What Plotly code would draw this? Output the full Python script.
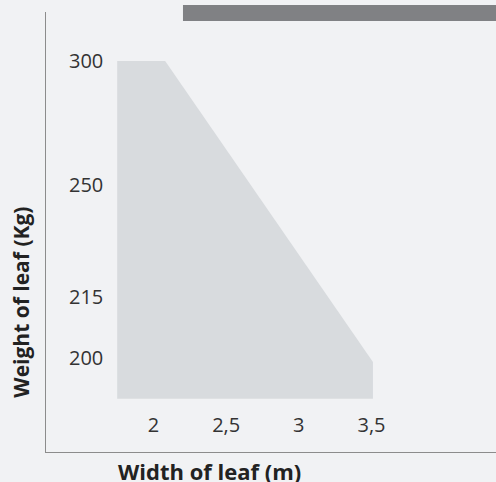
import numpy as np
import plotly.graph_objects as go

# ---- data ----
width_ticks = [2, 2.5, 3, 3.5]
width_tick_labels = ["2", "2,5", "3", "3,5"]
weight_ticks = [200, 215, 250, 300]
weight_tick_labels = ["200", "215", "250", "300"]

# outline of the admissible area (width in m, weight in kg)
area_width = [1.75, 1.75, 2.08, 3.51, 3.51, 1.75]
area_weight = [190, 300, 300, 199, 190, 190]

# ---- non-linear weight scale (visual slots of the weight ticks) ----
slot_pos = [94, 155, 267, 391]  # axis units for 200, 215, 250, 300


def weight_to_axis(w):
    w = np.asarray(w, dtype=float)
    out = np.interp(w, weight_ticks, slot_pos)
    lo_slope = (slot_pos[1] - slot_pos[0]) / (weight_ticks[1] - weight_ticks[0])
    out = np.where(w < weight_ticks[0], slot_pos[0] + (w - weight_ticks[0]) * lo_slope, out)
    return out


BG = "#f1f2f4"
FONT = "Open Sans"

fig = go.Figure()
fig.add_trace(go.Scatter(
    x=area_width,
    y=weight_to_axis(area_weight),
    mode="lines",
    fill="toself",
    fillcolor="#d8dbde",
    line=dict(width=0, color="#d8dbde"),
    hoverinfo="skip",
    showlegend=False,
))

fig.update_layout(
    width=496,
    height=482,
    margin=dict(l=46, r=0, t=12, b=30),
    paper_bgcolor=BG,
    plot_bgcolor=BG,
    font=dict(family=FONT, color="#333333", size=20),
    showlegend=False,
    xaxis=dict(
        range=[1.260, 4.357],
        tickvals=width_ticks,
        ticktext=width_tick_labels,
        ticklabelposition="inside",
        ticklabelstandoff=17,
        showgrid=False,
        zeroline=False,
        showline=True,
        linecolor="#8c8c8c",
        linewidth=1,
        ticks="",
        tickfont=dict(family=FONT, size=20, color="#333333"),
        fixedrange=True,
    ),
    yaxis=dict(
        range=[0, 440],
        tickvals=list(weight_to_axis(weight_ticks)),
        ticktext=weight_tick_labels,
        ticklabelposition="inside",
        ticklabelstandoff=24,
        showgrid=False,
        zeroline=False,
        showline=True,
        linecolor="#8c8c8c",
        linewidth=1,
        ticks="",
        tickfont=dict(family=FONT, size=20, color="#333333"),
        fixedrange=True,
    ),
    shapes=[dict(
        type="rect", xref="paper", yref="paper",
        x0=0.3044, x1=1.0, y0=0.9795, y1=1.0159,
        fillcolor="#808184", line=dict(width=0), layer="above",
    )],
    annotations=[
        dict(text="<b>Width of leaf (m)</b>", xref="paper", yref="paper",
             x=0.364, y=-0.043, xanchor="center", yanchor="middle",
             showarrow=False, font=dict(family=FONT, size=22, color="#222222")),
        dict(text="<b>Weight of leaf (Kg)</b>", xref="paper", yref="paper",
             x=-0.055, y=0.34, xanchor="center", yanchor="middle", textangle=-90,
             showarrow=False, font=dict(family=FONT, size=21, color="#222222")),
    ],
)

fig.write_html("out.html", config={"displayModeBar": False},
               post_script="document.body.style.margin='0';")
